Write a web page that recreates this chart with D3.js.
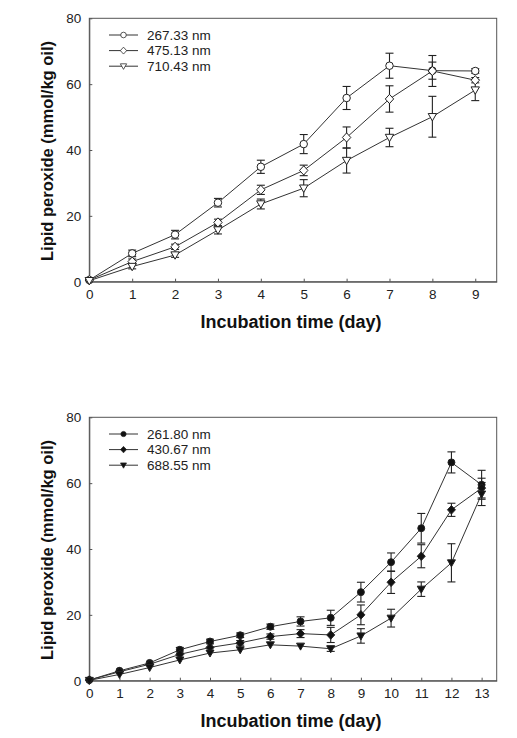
<!DOCTYPE html>
<html><head><meta charset="utf-8">
<script src="https://cdn.jsdelivr.net/npm/d3@7"></script>
<style>
body{margin:0;background:#fff;}
svg{display:block;font-family:"Liberation Sans",Arial,sans-serif;}
</style></head><body>
<svg id="c" width="517" height="738"></svg>
<script>
// ---- Data: top panel ----
const daysA = [0,1,2,3,4,5,6,7,8,9];
const namesA = ["267.33 nm","475.13 nm","710.43 nm"];
const valA1 = [0.5,8.6,14.3,24.0,34.9,41.8,55.8,65.6,64.1,64.0];
const errA1 = [0.3,1.0,1.3,1.3,2.0,2.9,3.5,3.8,2.6,0.7];
const valA2 = [0.5,6.1,10.6,18.0,27.9,33.8,43.8,55.5,64.0,61.2];
const errA2 = [0.3,0.8,0.8,1.0,1.4,1.6,3.2,4.0,4.7,0.8];
const valA3 = [0.3,4.6,8.1,15.7,23.6,28.4,36.8,43.8,50.1,58.2];
const errA3 = [0.2,0.7,0.7,1.2,1.5,2.6,3.8,2.8,6.2,3.2];
// ---- Data: bottom panel ----
const daysB = [0,1,2,3,4,5,6,7,8,9,10,11,12,13];
const namesB = ["261.80 nm","430.67 nm","688.55 nm"];
const valB1 = [0.2,3.0,5.4,9.4,11.9,13.8,16.4,18.0,19.1,26.9,36.0,46.3,66.3,59.5];
const errB1 = [0.2,0.5,0.6,0.7,0.7,0.7,0.8,1.4,2.3,3.0,2.8,4.5,3.2,4.4];
const valB2 = [0.2,2.7,5.0,8.0,10.1,11.5,13.4,14.3,13.9,20.0,29.9,37.8,51.9,58.5];
const errB2 = [0.2,0.4,0.5,0.6,0.6,0.7,0.8,1.2,2.3,3.0,3.4,3.5,2.0,3.0];
const valB3 = [0.1,1.9,4.0,6.3,8.4,9.4,10.9,10.5,9.7,13.6,19.0,27.8,35.8,56.7];
const errB3 = [0.1,0.4,0.5,0.5,0.6,0.6,0.6,0.6,0.8,2.2,2.7,2.2,5.8,3.5];
const yTicks = [0,20,40,60,80];
const xLabel = "Incubation time (day)";
const yLabel = "Lipid peroxide (mmol/kg oil)";

const svg = d3.select("#c");
const ink = "#333";

function sym(type, filled){
  if(type==="circle") return d3.symbol().type(d3.symbolCircle).size(filled?38:44)();
  if(type==="diamond") return filled ? "M0,-4.3L4,0L0,4.3L-4,0Z" : "M0,-4.6L4.2,0L0,4.6L-4.2,0Z";
  return filled ? "M-4,-3L4,-3L0,4Z" : "M-4.2,-3.2L4.2,-3.2L0,4.2Z"; // down triangle
}

function panel(top, days, xmax, series, names, filled){
  const L=89.3, R=496.7, T=top, B=top+263.4;
  const x = d3.scaleLinear().domain([0,xmax]).range([L,R]);
  const y = d3.scaleLinear().domain([0,80]).range([B,T]);
  const g = svg.append("g");
  g.append("rect").attr("x",L).attr("y",T).attr("width",R-L).attr("height",B-T)
    .attr("fill","none").attr("stroke","#555").attr("stroke-width",1);
  const xa = d3.axisBottom(x).tickValues(days).tickFormat(d3.format("d")).tickSizeInner(-3).tickSizeOuter(0).tickPadding(8);
  const gx = g.append("g").attr("transform",`translate(0,${B})`).call(xa);
  const ya = d3.axisLeft(y).tickValues(yTicks).tickSizeInner(-3).tickSizeOuter(0).tickPadding(8);
  const gy = g.append("g").attr("transform",`translate(${L},0)`).call(ya);
  [gx,gy].forEach(a=>{
    a.select(".domain").attr("stroke","#555");
    a.selectAll(".tick line").attr("stroke","#555");
    a.selectAll(".tick text").attr("fill","#222").style("font-size","13.5px").style("font-family","'Liberation Sans',Arial,sans-serif");
  });
  g.append("text").attr("x",(L+R)/2 - 2).attr("y",B+46).attr("text-anchor","middle")
    .style("font-size","18px").style("font-weight","bold").attr("fill","#111").text(xLabel);
  g.append("text").attr("transform",`translate(${46.5},${(T+B)/2 + 1}) rotate(-90)`).attr("text-anchor","middle")
    .attr("dominant-baseline","central")
    .style("font-size","16.5px").style("font-weight","bold").attr("fill","#111").text(yLabel);
  const types=["circle","diamond","triangle"];
  const line = d3.line().x((d,i)=>x(days[i])).y(d=>y(d));
  series.forEach((s,k)=>{
    g.append("path").datum(s.v).attr("d",line).attr("fill","none").attr("stroke",ink).attr("stroke-width",1);
  });
  series.forEach((s,k)=>{
    const eg = g.append("g").attr("stroke","#222").attr("stroke-width",1.1);
    s.v.forEach((v,i)=>{
      const e=s.e[i]; if(y(v-e)-y(v+e)<4) return;
      const cx=x(days[i]);
      eg.append("line").attr("x1",cx).attr("x2",cx).attr("y1",y(v-e)).attr("y2",y(v+e));
      eg.append("line").attr("x1",cx-4).attr("x2",cx+4).attr("y1",y(v-e)).attr("y2",y(v-e));
      eg.append("line").attr("x1",cx-4).attr("x2",cx+4).attr("y1",y(v+e)).attr("y2",y(v+e));
    });
  });
  series.forEach((s,k)=>{
    g.append("g").selectAll("path").data(s.v).join("path")
      .attr("transform",(d,i)=>`translate(${x(days[i])},${y(d)})`)
      .attr("d",sym(types[k],filled)).attr("fill",filled?"#111":"#fff").attr("stroke","#222").attr("stroke-width",1);
  });
  names.forEach((n,k)=>{
    const ly = T+16.7+k*15.6;
    g.append("line").attr("x1",109).attr("x2",138).attr("y1",ly).attr("y2",ly).attr("stroke",ink);
    g.append("path").attr("transform",`translate(123.5,${ly}) scale(0.75)`).attr("d",sym(types[k],filled))
      .attr("fill",filled?"#111":"#fff").attr("stroke","#222");
    g.append("text").attr("x",147).attr("y",ly).attr("dominant-baseline","central")
      .style("font-size","13.5px").attr("fill","#222").text(n);
  });
}

panel(18.3, daysA, 9.5, [{v:valA1,e:errA1},{v:valA2,e:errA2},{v:valA3,e:errA3}], namesA, false);
panel(417.3, daysB, 13.5, [{v:valB1,e:errB1},{v:valB2,e:errB2},{v:valB3,e:errB3}], namesB, true);
</script>
</body></html>
